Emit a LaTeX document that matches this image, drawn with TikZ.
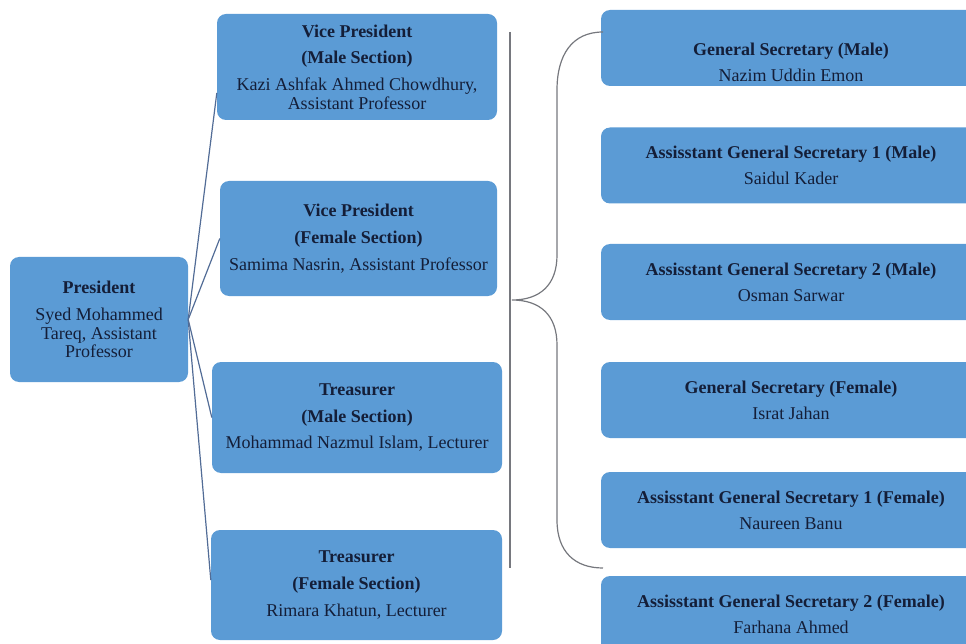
\documentclass[tikz,border=0pt]{standalone}
\usepackage{fontspec}
\setmainfont{Liberation Serif}
\definecolor{boxblue}{RGB}{91,155,213}
\definecolor{txtnavy}{RGB}{20,30,56}
\definecolor{linkblue}{RGB}{82,108,150}
\definecolor{linkgray}{RGB}{118,120,126}
\begin{document}
\begin{tikzpicture}[x=1pt,y=-1pt,
  box/.style={fill=boxblue, rounded corners=9pt, inner sep=0pt, align=center,
    text=txtnavy, font=\fontsize{18}{18.7}\selectfont},
  rbox/.style={box, minimum width=380pt, minimum height=76pt},
  txt/.style={inner sep=0pt, align=center, text=txtnavy, font=\fontsize{18}{18.7}\selectfont},
  plink/.style={draw=linkblue, line width=1.2pt},
  glink/.style={draw=linkgray, line width=1.2pt}]
\useasboundingbox (0,0) rectangle (966,644);

% left column
\node[box, minimum width=178pt, minimum height=125pt] (pres) at (99,319.5)
  {\textbf{President}\\[8.5pt]Syed Mohammed\\Tareq, Assistant\\Professor};
\node[box, minimum width=280pt, minimum height=106pt] (vpm) at (357,67)
  {\textbf{Vice President}\\[8pt]\textbf{(Male Section)}\\[8pt]Kazi Ashfak Ahmed Chowdhury,\\Assistant Professor};
\node[box, minimum width=277pt, minimum height=115pt] (vpf) at (358.5,238.5)
  {\textbf{Vice President}\\[8pt]\textbf{(Female Section)}\\[8pt]Samima Nasrin, Assistant Professor};
\node[box, minimum width=290pt, minimum height=111pt] (trm) at (357,417.5)
  {\textbf{Treasurer}\\[8pt]\textbf{(Male Section)}\\[8pt]Mohammad Nazmul Islam, Lecturer};
\node[box, minimum width=291pt, minimum height=110pt] (trf) at (356.5,585)
  {\textbf{Treasurer}\\[8pt]\textbf{(Female Section)}\\[8pt]Rimara Khatun, Lecturer};

% right column
\node[rbox] (gsm) at (791,48) {};
\node[txt] (gsmt) at (791,62) {\textbf{General Secretary (Male)}\\[7.5pt]Nazim Uddin Emon};
\node[rbox] (agsm1) at (791,165.5) {\textbf{Assisstant General Secretary 1 (Male)}\\[7.5pt]Saidul Kader};
\node[rbox] (agsm2) at (791,282) {\textbf{Assisstant General Secretary 2 (Male)}\\[7.5pt]Osman Sarwar};
\node[rbox] (gsf) at (791,400) {\textbf{General Secretary (Female)}\\[7.5pt]Israt Jahan};
\node[rbox] (agsf1) at (791,510) {\textbf{Assisstant General Secretary 1 (Female)}\\[7.5pt]Naureen Banu};
\node[rbox] (agsf2) at (791,614) {\textbf{Assisstant General Secretary 2 (Female)}\\[7.5pt]Farhana Ahmed};

% president connectors
\draw[plink] (pres.east) -- ([yshift=-26pt]vpm.west);
\draw[plink] (pres.east) -- (vpf.west);
\draw[plink] (pres.east) -- (trm.west);
\draw[plink] (pres.east) -- ([yshift=5pt]trf.west);

% vertical divider
\coordinate (vtop) at (510,32);
\coordinate (vbot) at (510,568);
\draw[glink] (vtop) -- (vbot);

% brace
\coordinate (btop) at (603,32);
\coordinate (btip) at (512,300);
\coordinate (bbot) at (603,568);
\draw[glink] (btop) .. controls (572,32) and (557,55) .. (557,90)
  -- (557,255) .. controls (557,285) and (540,300) .. (btip)
  .. controls (540,300) and (557,315) .. (557,345)
  -- (557,520) .. controls (557,552) and (575,568) .. (bbot);
\end{tikzpicture}
\end{document}
